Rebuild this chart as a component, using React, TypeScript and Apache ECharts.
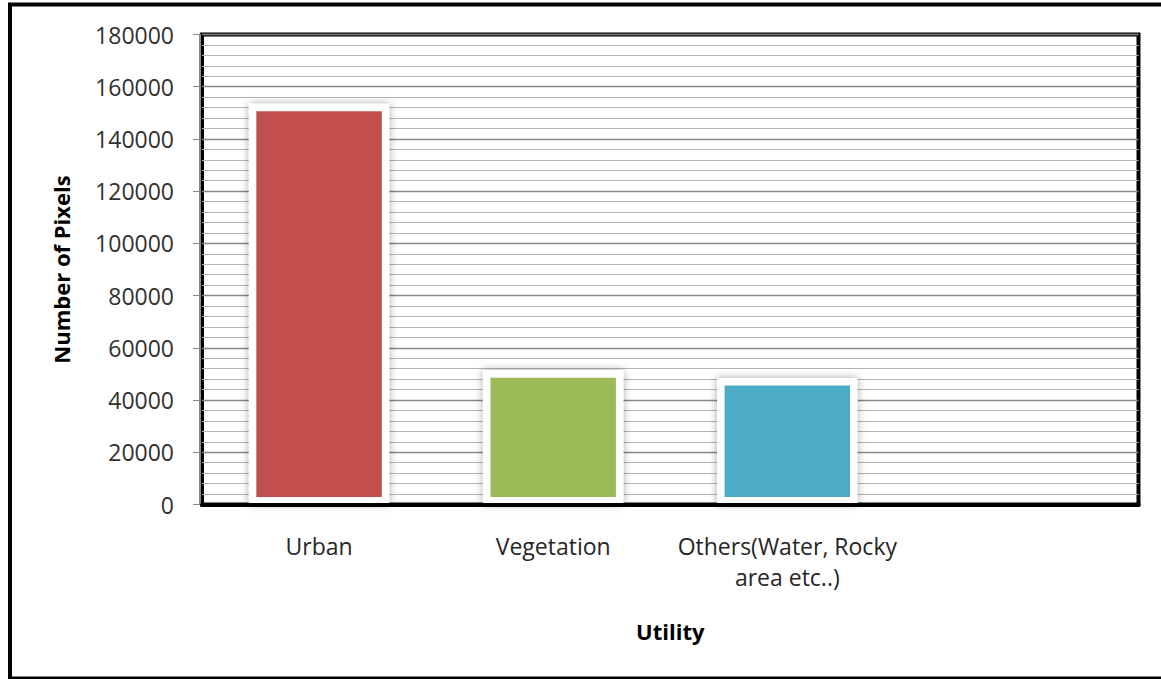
import React, { useEffect, useRef } from "react";
import * as echarts from "echarts";

const categories = ["Urban", "Vegetation", "Others(Water, Rocky\narea etc..)", ""];
const pixelCounts = [153500, 51400, 48400, null];
const barColors = ["#C0504D", "#9BBB59", "#4BACC6", "#8064A2"];
const yMin = 0;
const yMax = 180000;
const yInterval = 20000;

const FONT = "'Open Sans', 'Noto Sans', sans-serif";

export default function App() {
  const ref = useRef<HTMLDivElement>(null);
  useEffect(() => {
    if (!ref.current) return;
    const chart = echarts.init(ref.current, null, { renderer: "svg" });
    chart.setOption({
      animation: false,
      backgroundColor: "#ffffff",
      graphic: [
        {
          type: "rect",
          shape: { x: 10, y: 4.5, width: 1200, height: 674 },
          style: { fill: "none", stroke: "#000", lineWidth: 4 },
          z: 100,
          silent: true,
        },
      ],
      grid: {
        left: 202,
        top: 34.5,
        right: 22.5,
        bottom: 174.5,
        show: true,
        borderColor: "#000",
        borderWidth: 4,
        backgroundColor: "transparent",
      },
      xAxis: {
        type: "category",
        data: categories,
        z: 10,
        axisLine: { show: true, lineStyle: { color: "#000", width: 4 } },
        axisTick: { show: false },
        axisLabel: {
          interval: 0,
          margin: 26,
          fontFamily: FONT,
          fontSize: 23,
          lineHeight: 31,
          color: "#262626",
          align: "center",
        },
        name: "Utility",
        nameLocation: "middle",
        nameGap: 115,
        nameTextStyle: {
          fontFamily: FONT,
          fontSize: 22,
          fontWeight: "bold",
          color: "#000",
        },
      },
      yAxis: {
        type: "value",
        min: yMin,
        max: yMax,
        interval: yInterval,
        offset: 2,
        z: 0,
        axisLine: { show: true, lineStyle: { color: "#868686", width: 2 } },
        axisTick: { show: true, length: 7, lineStyle: { color: "#868686", width: 1 } },
        minorTick: { show: false, splitNumber: 5 },
        splitLine: { show: true, lineStyle: { color: "#878787", width: 1.3 } },
        minorSplitLine: { show: true, lineStyle: { color: "#b4b4b4", width: 1.2 } },
        axisLabel: {
          margin: 26,
          fontFamily: FONT,
          fontSize: 23,
          color: "#303030",
          formatter: (v: number) => String(v),
        },
        name: "Number of Pixels",
        nameLocation: "middle",
        nameRotate: 90,
        nameGap: 128,
        nameTextStyle: {
          fontFamily: FONT,
          fontSize: 22,
          fontWeight: "bold",
          color: "#000",
        },
      },
      series: [
        {
          type: "bar",
          z: 2,
          data: pixelCounts.map((v, i) => ({
            value: v,
            itemStyle: { color: barColors[i] },
          })),
          barCategoryGap: "40%",
          itemStyle: {
            borderColor: "#ffffff",
            borderWidth: 7.5,
            shadowBlur: 8,
            shadowColor: "rgba(0,0,0,0.35)",
            shadowOffsetX: 0,
            shadowOffsetY: 0,
          },
        },
      ],
    });
    return () => chart.dispose();
  }, []);
  return (
    <div
      ref={ref}
      style={{ position: "absolute", left: 0, top: 0, width: 1161, height: 679 }}
    />
  );
}
